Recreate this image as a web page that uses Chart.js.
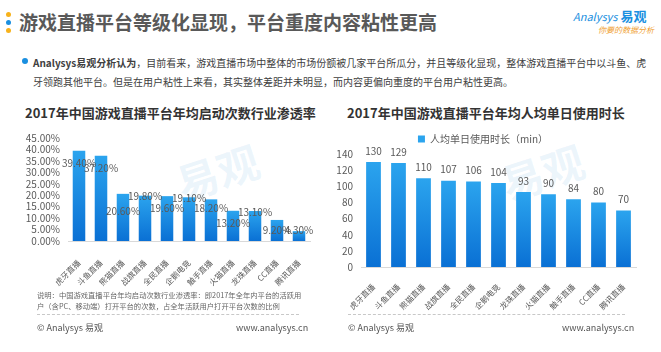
<!DOCTYPE html>
<html>
<head>
<meta charset="utf-8">
<script src="https://cdn.jsdelivr.net/npm/chart.js@4.4.0/dist/chart.umd.min.js"></script>
<style>
  html, body { margin: 0; padding: 0; background: #fff; }
  body { width: 661px; height: 352px; position: relative; overflow: hidden;
         font-family: "Noto Sans CJK SC", "Noto Sans", sans-serif; }
  .abs { position: absolute; white-space: nowrap; }
  .dot { position: absolute; width: 5px; height: 5px; border-radius: 50%; }
  .wm { position: absolute; font-size: 42px; font-weight: bold; color: rgba(110,175,230,0.13);
        transform: rotate(-18deg); }
  .dash { position: absolute; border-top: 1px dashed #c8c8c8; height: 0; }
  .foot { position: absolute; font-size: 9px; color: #555; white-space: nowrap; }
</style>
</head>
<body>

<!-- header -->
<div class="dot" style="left:6px;top:12px;background:#f7b21b"></div>
<div class="dot" style="left:6px;top:20px;background:#1a8fe0"></div>
<div class="dot" style="left:6px;top:28px;background:#f7b21b"></div>
<div class="abs" style="left:19px;top:9px;font-size:19px;font-weight:bold;color:#595959;line-height:26px">游戏直播平台等级化显现，平台重度内容粘性更高</div>
<div class="abs" style="left:573px;top:8px;font-size:13px;line-height:16px;color:#1a8fe0">
  <span style="font-style:italic;font-size:11px">Analysys</span> <b>易观</b></div>
<div class="abs" style="left:598px;top:24px;font-size:8px;line-height:12px;color:#f0a030;font-style:italic">你要的数据分析</div>

<!-- paragraph -->
<div class="dot" style="left:22px;top:58px;width:6px;height:6px;background:#1a8fe0"></div>
<div class="abs" style="left:33px;top:53px;font-size:10px;line-height:19px;color:#404040">
  <b>Analysys易观分析认为</b>，目前看来，游戏直播市场中整体的市场份额被几家平台所瓜分，并且等级化显现，整体游戏直播平台中以斗鱼、虎<br>
  牙领跑其他平台。但是在用户粘性上来看，其实整体差距并未明显，而内容更偏向重度的平台用户粘性更高。
</div>

<!-- chart titles -->
<div class="abs" style="left:25px;top:104px;font-size:13px;font-weight:bold;color:#333;line-height:18px">2017年中国游戏直播平台年均启动次数行业渗透率</div>
<div class="abs" style="left:347px;top:104px;font-size:13px;font-weight:bold;color:#333;line-height:18px">2017年中国游戏直播平台年均人均单日使用时长</div>

<!-- watermarks -->
<div class="wm" style="left:175px;top:140px">易观</div>
<div class="wm" style="left:500px;top:140px">易观</div>

<canvas id="penetration" class="abs" style="left:0;top:120px"></canvas>
<canvas id="duration" class="abs" style="left:330px;top:120px"></canvas>

<!-- notes and footers -->
<div class="abs" style="left:37px;top:290px;font-size:7.3px;line-height:11px;color:#666">
  说明：中国游戏直播平台年均启动次数行业渗透率：即2017年全年内平台的活跃用<br>
  户（含PC、移动端）打开平台的次数，占全年活跃用户打开平台次数的比例
</div>
<div class="dash" style="left:37px;top:314px;width:262px"></div>
<div class="foot" style="left:37px;top:321px">© Analysys 易观</div>
<div class="foot" style="left:236px;top:321px;width:63px;text-align:right">www.analysys.cn</div>

<div class="dash" style="left:348px;top:314px;width:277px"></div>
<div class="foot" style="left:348px;top:321px">© Analysys 易观</div>
<div class="foot" style="left:562px;top:321px;width:63px;text-align:right">www.analysys.cn</div>

<script>
// ---- data ----
var leftPlatforms = ['虎牙直播', '斗鱼直播', '熊猫直播', '战旗直播', '全民直播', '企鹅电竞',
                     '触手直播', '火猫直播', '龙珠直播', 'CC直播', '腾讯直播'];
var penetrationRate = [39.4, 37.2, 20.6, 19.8, 19.6, 19.1, 18.2, 13.2, 13.1, 9.2, 4.3];
var rateTicks = { min: 0, max: 45, step: 5 };

var rightPlatforms = ['虎牙直播', '斗鱼直播', '熊猫直播', '战旗直播', '全民直播', '企鹅电竞',
                      '龙珠直播', '火猫直播', '触手直播', 'CC直播', '腾讯直播'];
var dailyMinutes = [130, 129, 110, 107, 106, 104, 93, 90, 84, 80, 70];
var minuteTicks = { min: 0, max: 140, step: 20 };
var durationLabel = '人均单日使用时长（min）';

// vertical nudges for the left chart's value labels (as placed in the original)
var leftLabelShift = [12, 12, 17, 1, 12, 1, 9, 12, 1, 10, -1];

var tickColor = '#595959';
var fontFamily = '"Noto Sans CJK SC", "Noto Sans", sans-serif';

function barGradient(ctx) {
  if (ctx.type !== 'data') return '#1a8fe6';
  var chart = ctx.chart;
  var area = chart.chartArea;
  if (!area) return '#1a8fe6';
  var top = chart.scales.y.getPixelForValue(ctx.parsed.y);
  var g = chart.ctx.createLinearGradient(0, top, 0, area.bottom);
  g.addColorStop(0, '#2ba4ee');
  g.addColorStop(1, '#0a70d4');
  return g;
}

function valueLabels(fmt, shift) {
  return {
    id: 'valueLabels',
    afterDatasetsDraw: function(chart) {
      var c = chart.ctx;
      var meta = chart.getDatasetMeta(0);
      var data = chart.data.datasets[0].data;
      c.save();
      c.font = '10px ' + fontFamily;
      c.fillStyle = tickColor;
      c.textAlign = 'center';
      c.textBaseline = 'middle';
      meta.data.forEach(function(bar, i) {
        c.fillText(fmt(data[i]), bar.x, bar.y + shift(i));
      });
      c.restore();
    }
  };
}

function makeScales(ticks, yWidth, xHeight, xPad, yFmt) {
  return {
    x: {
      grid: { display: false },
      border: { display: true, color: '#d9d9d9' },
      ticks: { color: tickColor, font: { size: 8, family: fontFamily },
               minRotation: 45, maxRotation: 45, autoSkip: false, padding: xPad },
      afterFit: function(s) { s.height = xHeight; }
    },
    y: {
      min: ticks.min, max: ticks.max,
      grid: { display: false, drawTicks: false },
      border: { display: false },
      ticks: { stepSize: ticks.step, color: tickColor, padding: 8, autoSkip: false,
               font: { size: 10, family: fontFamily }, callback: yFmt },
      afterFit: function(s) { s.width = yWidth; }
    }
  };
}

function leftChart() {
  var el = document.getElementById('penetration');
  el.width = 330; el.height = 172;
  new Chart(el, {
    type: 'bar',
    data: {
      labels: leftPlatforms,
      datasets: [{
        data: penetrationRate,
        backgroundColor: barGradient,
        categoryPercentage: 1,
        barPercentage: 0.57
      }]
    },
    options: {
      responsive: false,
      animation: false,
      layout: { padding: { top: 18, right: 20, left: 0, bottom: 0 } },
      plugins: { legend: { display: false }, tooltip: { enabled: false } },
      scales: makeScales(rateTicks, 68, 51, 9, function(v) { return v.toFixed(2) + '%'; })
    },
    plugins: [valueLabels(function(v) { return v.toFixed(2) + '%'; },
                          function(i) { return leftLabelShift[i]; })]
  });
}

function rightChart() {
  var el = document.getElementById('duration');
  el.width = 331; el.height = 195;
  new Chart(el, {
    type: 'bar',
    data: {
      labels: rightPlatforms,
      datasets: [{
        label: durationLabel,
        data: dailyMinutes,
        backgroundColor: barGradient,
        categoryPercentage: 1,
        barPercentage: 0.59
      }]
    },
    options: {
      responsive: false,
      animation: false,
      layout: { padding: { top: 6, right: 25, left: 0, bottom: 0 } },
      plugins: {
        legend: {
          display: true,
          labels: { boxWidth: 7, boxHeight: 7, padding: 8, color: tickColor,
                    font: { size: 10, family: fontFamily } }
        },
        tooltip: { enabled: false }
      },
      scales: makeScales(minuteTicks, 31, 48, 7, function(v) { return v; })
    },
    plugins: [valueLabels(function(v) { return String(v); },
                          function() { return -11; })]
  });
}

leftChart();
rightChart();
</script>
</body>
</html>
